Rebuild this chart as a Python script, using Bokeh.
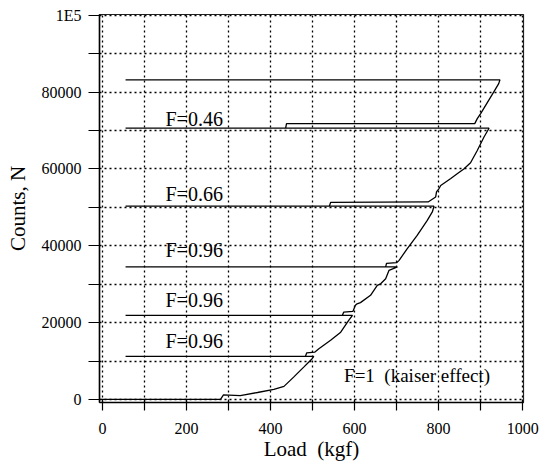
from bokeh.plotting import figure
from bokeh.models import FixedTicker, Range1d, BasicTickFormatter
from bokeh.embed import file_html
from bokeh.resources import INLINE
from bokeh.core.properties import value

# Load (kgf) / counts along the loading - unloading - reloading path
load = [-5, 281, 288, 328, 369, 408, 432, 455, 479, 499, 503,
        55, 483, 486, 505, 515, 543, 567, 586, 595,
        55, 571, 574, 596, 602, 606, 614, 638, 654, 662, 674, 682, 702,
        55, 674, 676, 700, 706, 725, 749, 773, 785, 789,
        55, 540, 543, 775, 793, 795, 801, 805, 829, 845, 860, 876, 892, 908, 920,
        55, 436, 438, 886, 892, 900, 931, 943, 946,
        55]
counts = [0, 0, 1200, 1000, 1800, 2600, 3400, 5800, 8400, 10600, 11200,
          11200, 11200, 12100, 12300, 13200, 15400, 17500, 20600, 21900,
          21900, 21900, 22700, 22900, 24500, 24900, 25200, 27100, 29700, 30100, 31400, 33600, 34500,
          34500, 34500, 35400, 35600, 36200, 39200, 42700, 46600, 48800, 50300,
          50300, 50300, 51300, 51400, 52700, 54000, 54900, 55700, 57500, 58800, 60000, 61600, 64800, 68300, 70600,
          70600, 70600, 71800, 71800, 73100, 74400, 80000, 82200, 83200,
          83200]

x_ticks = [0, 200, 400, 600, 800, 1000]
x_minor = [100, 300, 500, 700, 900]
y_ticks = [0, 20000, 40000, 60000, 80000, 100000]
y_minor = [10000, 30000, 50000, 70000, 90000]
y_tick_labels = {100000: "1E5"}

ann_text = ["F=0.46", "F=0.66", "F=0.96", "F=0.96", "F=0.96"]
ann_x = [150, 150, 150, 150, 150]
ann_y = [70200, 50700, 36100, 23000, 12300]
kaiser_text = ["F=1\u00a0 (kaiser effect)"]
kaiser_x = [575]
kaiser_y = [3500]

SERIF = "'Liberation Serif', 'Times New Roman', serif"

p = figure(width=545, height=464, x_range=Range1d(-7, 1002), y_range=Range1d(-800, 100200),
           output_backend="svg", toolbar_location=None,
           min_border_left=99, min_border_right=22, min_border_top=14, min_border_bottom=62)
p.background_fill_color = "white"
p.border_fill_color = "white"
p.outline_line_color = "#222222"
p.outline_line_width = 1.2

# grid: dotted at every 100 kgf / 10000 counts
p.xgrid.ticker = FixedTicker(ticks=sorted(x_ticks + x_minor))
p.ygrid.ticker = FixedTicker(ticks=sorted(y_ticks + y_minor))
for g in (p.xgrid, p.ygrid):
    g.grid_line_color = "black"
    g.grid_line_dash = "2 3"
    g.grid_line_width = 1.3
    g.grid_line_alpha = 1.0

p.xaxis.ticker = FixedTicker(ticks=x_ticks, minor_ticks=x_minor)
p.yaxis.ticker = FixedTicker(ticks=y_ticks, minor_ticks=y_minor)
p.yaxis.formatter = BasicTickFormatter(use_scientific=False)
p.yaxis.major_label_overrides = y_tick_labels

for ax in (p.xaxis, p.yaxis):
    ax.axis_line_color = "black"
    ax.axis_line_width = 1.5
    ax.major_tick_line_color = "black"
    ax.minor_tick_line_color = "black"
    ax.major_tick_line_width = 1.2
    ax.minor_tick_line_width = 1.2
    ax.major_label_text_font = SERIF
    ax.major_label_text_font_size = "16px"
    ax.major_label_text_color = "black"
    ax.axis_label_text_font = SERIF
    ax.axis_label_text_font_size = "21px"
    ax.axis_label_text_font_style = "normal"
    ax.axis_label_text_color = "black"

p.xaxis.major_tick_in = 3
p.xaxis.major_tick_out = 8
p.xaxis.minor_tick_in = 3
p.xaxis.minor_tick_out = 8
p.xaxis.major_label_standoff = 12
p.xaxis.axis_label_standoff = 0
p.xaxis.axis_label = "Load\u00a0 (kgf)"

p.yaxis.major_tick_in = 0
p.yaxis.major_tick_out = 11
p.yaxis.minor_tick_in = 0
p.yaxis.minor_tick_out = 11
p.yaxis.major_label_standoff = 7
p.yaxis.axis_label_standoff = 9
p.yaxis.axis_label = "Counts, N"

p.line(load, counts, line_color="black", line_width=1.3)

p.text(ann_x, ann_y, text=ann_text, text_font=value(SERIF), text_font_size="20px",
       text_color="black", text_baseline="bottom", text_align="left")
p.text(kaiser_x, kaiser_y, text=kaiser_text, text_font=value(SERIF), text_font_size="19px",
       text_color="black", text_baseline="bottom", text_align="left")

open("out.html", "w").write(file_html(p, INLINE))
